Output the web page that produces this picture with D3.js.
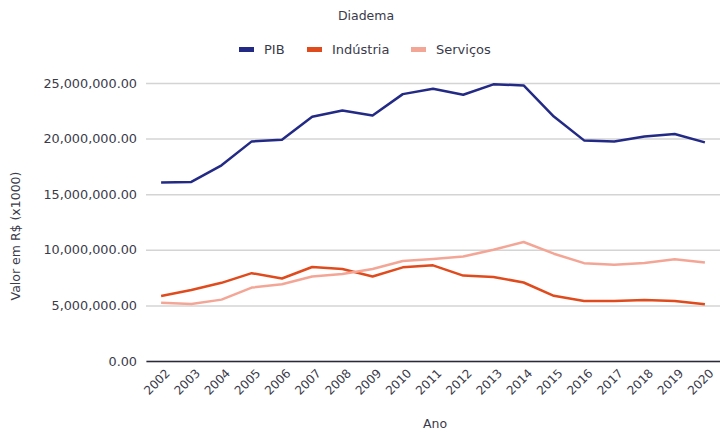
<!DOCTYPE html>
<html>
<head>
<meta charset="utf-8">
<script src="https://cdn.jsdelivr.net/npm/d3@7"></script>
<style>
    body { margin: 0; background: #fff; }
    svg { font-family: 'DejaVu Sans', Verdana, sans-serif; }
    .axis text { fill: #3a3a4a; font-size: 12.8px; font-family: 'DejaVu Sans', Verdana, sans-serif; }
    .x-axis text { font-size: 12px; }
</style>
</head>
<body>
<svg id="chart" width="720" height="431"></svg>
<script>
const years = ['2002', '2003', '2004', '2005', '2006', '2007', '2008', '2009', '2010', '2011',
    '2012', '2013', '2014', '2015', '2016', '2017', '2018', '2019', '2020'];
const pib = [16050000, 16100000, 17600000, 19750000, 19900000, 21960000, 22520000, 22080000, 24000000, 24480000,
    23940000, 24880000, 24780000, 21980000, 19840000, 19730000, 20180000, 20420000, 19660000];
const industria = [5850000, 6390000, 7030000, 7900000, 7420000, 8450000, 8270000, 7600000, 8420000, 8600000,
    7680000, 7560000, 7060000, 5860000, 5400000, 5400000, 5480000, 5400000, 5100000];
const servicos = [5240000, 5130000, 5520000, 6600000, 6900000, 7600000, 7820000, 8270000, 9000000, 9180000,
    9390000, 10000000, 10700000, 9650000, 8800000, 8650000, 8820000, 9150000, 8860000];
const yTicks = [0, 5000000, 10000000, 15000000, 20000000, 25000000];

const series = [
    { name: 'PIB', values: pib, color: '#232a85' },
    { name: 'Indústria', values: industria, color: '#e04b1d' },
    { name: 'Serviços', values: servicos, color: '#f4a696' },
];

const margin = { top: 83, right: 0, bottom: 70, left: 146 };
const width = 720 - margin.left - margin.right;
const height = 361 - margin.top;
const textColor = '#3a3a4a';

const svg = d3.select('#chart');
const g = svg.append('g').attr('transform', `translate(${ margin.left }, ${ margin.top })`);

const x = d3.scalePoint().domain(years).range([0, width]).padding(0.5);
const y = d3.scaleLinear().domain([0, 25000000]).range([height, 0]);
const fmt = d3.format(',.2f');

// gridlines + y labels
const yAxis = g.append('g')
    .attr('class', 'axis')
    .call(d3.axisLeft(y).tickValues(yTicks).tickSize(-width).tickPadding(9).tickFormat(fmt));
yAxis.select('.domain').remove();
yAxis.selectAll('line').attr('stroke', '#d4d4d4').attr('stroke-width', 1.5);

// x axis
const xAxis = g.append('g')
    .attr('class', 'axis x-axis')
    .attr('transform', `translate(0, ${ height })`)
    .call(d3.axisBottom(x).tickSize(0));
xAxis.select('.domain').attr('stroke', '#2a2a3a').attr('stroke-width', 1.5);
xAxis.selectAll('text')
    .style('text-anchor', 'end')
    .attr('x', 0)
    .attr('y', 0)
    .attr('dy', '0.35em')
    .attr('transform', 'translate(6, 10) rotate(-45)');

// lines
const line = d3.line().x((d, i) => x(years[i])).y((d) => y(d));
series.forEach((s) => {
    g.append('path')
        .datum(s.values)
        .attr('fill', 'none')
        .attr('stroke', s.color)
        .attr('stroke-width', 2.5)
        .attr('stroke-linejoin', 'round')
        .attr('d', line);
});

// title
svg.append('text')
    .attr('x', 366)
    .attr('y', 20)
    .attr('text-anchor', 'middle')
    .style('font-size', '12.5px')
    .attr('fill', textColor)
    .text('Diadema');

// legend
const legendX = [239, 307, 411];
series.forEach((s, i) => {
    svg.append('rect')
        .attr('x', legendX[i])
        .attr('y', 47)
        .attr('width', 15)
        .attr('height', 5)
        .attr('fill', s.color);
    svg.append('text')
        .attr('x', legendX[i] + 25)
        .attr('y', 54)
        .style('font-size', '13px')
        .attr('fill', textColor)
        .text(s.name);
});

// axis titles
svg.append('text')
    .attr('x', 435)
    .attr('y', 428)
    .attr('text-anchor', 'middle')
    .style('font-size', '12.5px')
    .attr('fill', textColor)
    .text('Ano');

svg.append('text')
    .attr('transform', 'translate(20, 236) rotate(-90)')
    .attr('text-anchor', 'middle')
    .style('font-size', '12.5px')
    .attr('fill', textColor)
    .text('Valor em R$ (x1000)');
</script>
</body>
</html>
